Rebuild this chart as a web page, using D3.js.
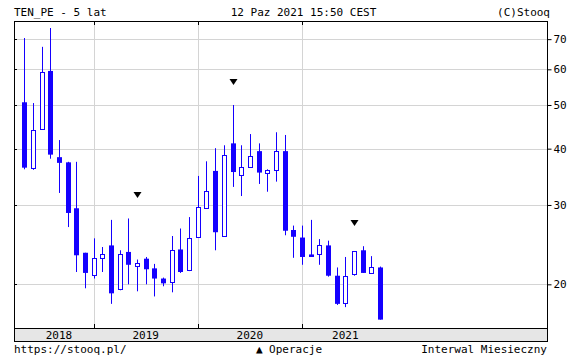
<!DOCTYPE html>
<html>
<head>
<meta charset="utf-8">
<script src="https://cdn.jsdelivr.net/npm/d3@7"></script>
<style>
  body { margin: 0; background: #fff; }
  text { font-family: "DejaVu Sans Mono", monospace; font-size: 11px; fill: #000; }
</style>
</head>
<body>
<svg id="chart" width="573" height="358"></svg>
<script>
// monthly candles, May 2018 .. Oct 2021
const months = d3.timeMonth.range(new Date(2018, 4, 1), new Date(2021, 10, 1));
const open  = [50.7, 36.3, 44.1, 59.5, 38.3, 37.3, 29.5, 23.5, 21.0, 22.9, 24.4, 19.5, 23.6, 22.0,
               22.8, 21.7, 20.6, 20.2, 23.9, 21.5, 25.5, 29.6, 35.7, 25.7, 41.1, 35.1, 36.5, 39.5,
               35.2, 36.0, 39.5, 26.4, 25.4, 23.3, 23.3, 24.4, 20.9, 18.2, 21.1, 23.8, 21.2, 21.8];
const high  = [70.4, 50.5, 67.3, 74.1, 41.8, 37.4, 37.4, 23.5, 25.3, 24.2, 27.8, 23.8, 28.0, 22.7,
               23.0, 22.2, 20.7, 25.6, 26.6, 28.2, 34.8, 37.5, 40.1, 40.7, 50.0, 40.7, 43.1, 41.1,
               36.0, 43.5, 42.9, 27.0, 27.0, 27.8, 25.2, 25.0, 21.8, 23.0, 23.7, 24.3, 23.1, 21.9];
const low   = [36.0, 35.9, 44.0, 38.0, 31.9, 26.8, 21.3, 19.6, 20.6, 21.3, 18.1, 19.4, 20.0, 19.3,
               20.0, 18.8, 19.8, 19.2, 21.2, 21.4, 25.5, 29.5, 23.8, 25.6, 32.9, 31.4, 36.4, 33.4,
               32.1, 33.8, 25.7, 22.9, 22.1, 23.0, 22.1, 20.8, 18.0, 17.8, 20.9, 21.2, 21.2, 16.7];
const close = [36.3, 44.1, 59.1, 38.8, 37.2, 28.8, 23.2, 21.2, 22.9, 23.4, 19.1, 23.3, 22.1, 22.3,
               21.6, 20.6, 20.1, 23.8, 21.3, 25.3, 29.7, 32.3, 26.1, 38.8, 35.5, 36.5, 38.6, 35.4,
               35.8, 39.6, 26.3, 25.5, 23.0, 23.0, 24.4, 20.9, 18.1, 20.9, 23.7, 21.2, 21.9, 16.7];

const years = ["2018", "2019", "2020", "2021"];
const yearFirst = [0, 8, 20, 32];     // index of first candle of each year
const yearNext  = [8, 20, 32, 42];
const priceTicks = [20, 30, 40, 50, 60, 70];
const operations = [13, 24, 38];      // months with a corporate action

const plotL = 14, plotR = 547, plotT = 21, plotB = 328;
const blue = "#1400ff", grid = "#d4d4d4";

const svg = d3.select("#chart");

const x = d3.scaleLinear().domain([-1.13, 60.25]).range([plotL + 0.5, plotR]);
const y = d3.scaleLog().domain([16, 76.8]).range([plotB, plotT]);
const px = i => Math.round(x(i)) + 0.5;

// grid
svg.append("g").selectAll("line").data(priceTicks).enter().append("line")
  .attr("x1", plotL).attr("x2", plotR)
  .attr("y1", d => Math.round(y(d)) + 0.5).attr("y2", d => Math.round(y(d)) + 0.5)
  .attr("stroke", grid);

svg.append("g").selectAll("line").data(yearFirst.slice(1)).enter().append("line")
  .attr("x1", d => px(d)).attr("x2", d => px(d))
  .attr("y1", plotT).attr("y2", plotB)
  .attr("stroke", grid);

// small inner ticks
svg.append("g").selectAll("line").data(priceTicks).enter().append("line")
  .attr("x1", plotL).attr("x2", plotL + 3)
  .attr("y1", d => Math.round(y(d)) + 0.5).attr("y2", d => Math.round(y(d)) + 0.5)
  .attr("stroke", "#000");
[plotT, plotB].forEach((yy, k) => {
  svg.append("g").selectAll("line").data(yearFirst.slice(1)).enter().append("line")
    .attr("x1", d => px(d)).attr("x2", d => px(d))
    .attr("y1", yy).attr("y2", k ? yy - 4 : yy + 4)
    .attr("stroke", "#000");
});

// candles
const idx = d3.range(months.length);
const cg = svg.append("g");
cg.selectAll("line").data(idx).enter().append("line")
  .attr("x1", px).attr("x2", px)
  .attr("y1", i => y(high[i])).attr("y2", i => y(low[i]))
  .attr("stroke", blue);

cg.selectAll("rect.down").data(idx.filter(i => close[i] < open[i])).enter().append("rect")
  .attr("x", i => px(i) - 2.5).attr("width", 5)
  .attr("y", i => y(open[i]))
  .attr("height", i => Math.max(1, y(close[i]) - y(open[i])))
  .attr("fill", blue);

cg.selectAll("rect.up").data(idx.filter(i => close[i] >= open[i])).enter().append("rect")
  .attr("x", i => px(i) - 2).attr("width", 4)
  .attr("y", i => Math.round(y(close[i])) + 0.5)
  .attr("height", i => Math.max(1, Math.round(y(open[i]) - y(close[i]))))
  .attr("fill", "#fff").attr("stroke", blue);

// operation markers, a bit above the local high
svg.append("g").selectAll("path").data(operations).enter().append("path")
  .attr("d", i => {
    const t = Math.round(y(d3.max([high[i - 1], high[i], high[i + 1]]))) - 26;
    const c = px(i);
    return `M${c - 4},${t}L${c + 4},${t}L${c},${t + 6}Z`;
  })
  .attr("fill", "#000");

// frame
svg.append("rect")
  .attr("x", plotL + 0.5).attr("y", plotT + 0.5)
  .attr("width", plotR - plotL).attr("height", plotB - plotT)
  .attr("fill", "none").attr("stroke", "#000");

// right axis
const axis = svg.append("g")
  .attr("transform", `translate(${plotR + 0.5},0)`)
  .call(d3.axisRight(y).tickValues(priceTicks).tickSize(4).tickPadding(2).tickFormat(d3.format("d")));
axis.select(".domain").remove();
axis.selectAll("line").attr("stroke", "#000");
axis.selectAll("text").attr("fill", "#000")
  .style("font-family", '"DejaVu Sans Mono", monospace').style("font-size", "11px");

// year strip
svg.append("rect")
  .attr("x", plotL + 0.5).attr("y", plotB + 0.5)
  .attr("width", plotR - plotL).attr("height", 13)
  .attr("fill", "#e6e6e6").attr("stroke", "#000");
svg.append("g").selectAll("text").data(years).enter().append("text")
  .attr("x", (d, k) => x((yearFirst[k] + yearNext[k]) / 2))
  .attr("y", plotB + 10.5)
  .attr("text-anchor", "middle")
  .text(d => d);

// header / footer
svg.append("text").attr("x", plotL).attr("y", 16).text("TEN_PE - 5 lat");
svg.append("text").attr("x", 303.5).attr("y", 16).attr("text-anchor", "middle").text("12 Paz 2021 15:50 CEST");
svg.append("text").attr("x", 550).attr("y", 16).attr("text-anchor", "end").text("(C)Stooq");
svg.append("text").attr("x", plotL).attr("y", 353).text("https://stooq.pl/");
svg.append("text").attr("x", 289).attr("y", 353).attr("text-anchor", "middle").text("▲ Operacje");
svg.append("text").attr("x", plotR).attr("y", 353).attr("text-anchor", "end").text("Interwal Miesieczny");
</script>
</body>
</html>
